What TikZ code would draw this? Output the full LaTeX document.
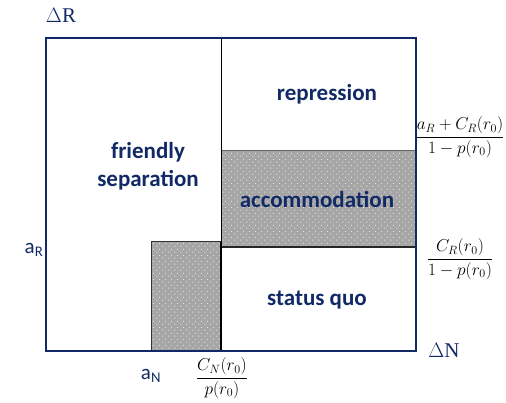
\documentclass[tikz,border=0pt]{standalone}
\usepackage{amsmath}
\usepackage{fontspec}
\setsansfont{Carlito}
\newfontfamily\serifdelta{Liberation Serif}
\usetikzlibrary{patterns.meta}
\definecolor{navy}{HTML}{112A66}
\tikzdeclarepattern{
	name=sparsedots, type=uncolored,
	bounding box={(0pt,0pt) and (6pt,6pt)},
	tile size={(6pt,6pt)},
	code={
		\pgfpathrectangle{\pgfpoint{0.5pt}{0.5pt}}{\pgfpoint{1.1pt}{1.1pt}}
		\pgfpathrectangle{\pgfpoint{3.5pt}{3.5pt}}{\pgfpoint{1.1pt}{1.1pt}}
		\pgfusepath{fill}
	}
}
\tikzset{
	region/.style={font=\sffamily\bfseries\fontsize{23}{28}\selectfont, text=navy, align=center},
	axislabel/.style={font=\serifdelta\fontsize{21}{24}\selectfont, text=navy},
	varlabel/.style={font=\sffamily\fontsize{21}{23}\selectfont, text=navy},
	fraclabel/.style={font=\fontsize{17.5}{20}\selectfont},
	dotted area/.style={fill=gray!70},
}
\begin{document}
\begin{tikzpicture}[x=1pt,y=1pt]
	\useasboundingbox (0,0) rectangle (506,403);

	% shaded areas
	\fill[dotted area] (221,156) rectangle (416,253);
	\fill[pattern=sparsedots, pattern color=white!80!gray] (221,156) rectangle (416,253);
	\fill[dotted area] (151,52) rectangle (221,161);
	\fill[pattern=sparsedots, pattern color=white!80!gray] (151,52) rectangle (221,161);
	\draw[line width=1pt, black!80] (151,52) -- (151,161) -- (221,161);
	\draw[line width=0.8pt, black!60] (221,253) -- (416,253);
	\draw[line width=2pt, black!85] (221,156) -- (416,156);

	% dividing line
	\draw[line width=0.8pt] (221,365) -- (221,52);
	\draw[line width=1.6pt] (221,161) -- (221,52);

	% outer box
	\draw[line width=2.6pt, navy] (46,52) rectangle (416,365);

	% regions
	\node[region] (rep) at (327,309) {repression};
	\node[region] (fsep) at (148,237) {friendly\\separation};
	\node[region] (acc) at (317,203) {accommodation};
	\node[region] (sq) at (317,103) {status quo};

	% axes labels
	\node[axislabel] (dR) at (61,388) {$\Delta$R};
	\node[axislabel] (dN) at (444,53) {$\Delta$N};
	\node[varlabel] (aR) at (34,153) {a\textsubscript{R}};
	\node[varlabel] (aN) at (151,27) {a\textsubscript{N}};

	% thresholds
	\node[fraclabel] (cn) at (222,25) {$\dfrac{C_N(r_0)}{p(r_0)}$};
	\node[fraclabel] (top) at (460,266) {$\dfrac{a_R + C_R(r_0)}{1-p(r_0)}$};
	\node[fraclabel] (low) at (460,144) {$\dfrac{C_R(r_0)}{1-p(r_0)}$};
\end{tikzpicture}
\end{document}
